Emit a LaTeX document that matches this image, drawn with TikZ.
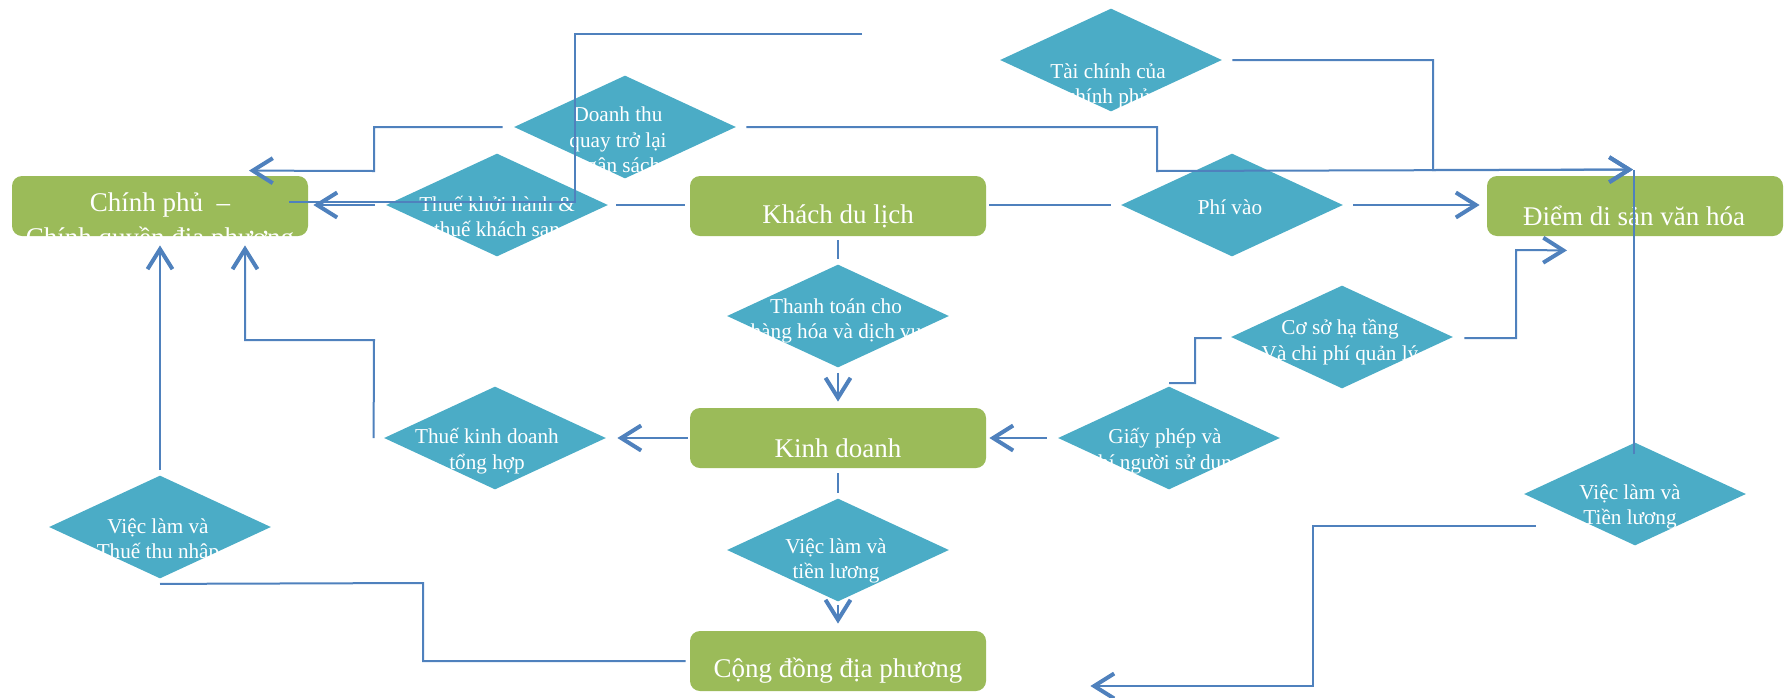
\documentclass[tikz,border=0pt]{standalone}
\usepackage{fontspec}
\setmainfont{Liberation Serif}
\usetikzlibrary{shapes.geometric,arrows.meta,calc}

\definecolor{boxgreen}{HTML}{9BBB59}
\definecolor{diamondteal}{HTML}{4BACC6}
\definecolor{linkblue}{HTML}{4F81BD}

\tikzset{
  greenbox/.style={shape=rectangle, rounded corners=5pt, fill=boxgreen,
    minimum width=148pt, minimum height=30pt, inner sep=0pt},
  tealdiamond/.style={shape=diamond, fill=diamondteal,
    minimum width=111pt, minimum height=51.5pt, inner sep=0pt},
  boxtext/.style={text=white, font=\fontsize{13.5}{17.5}\selectfont, align=center, inner sep=0pt},
  dtext/.style={text=white, font=\fontsize{10.6}{12.8}\selectfont, align=center, inner sep=0pt},
  conn/.style={draw=linkblue, line width=1pt},
  arrowend/.style={-{Straight Barb[length=10pt,width=12.5pt,line width=2pt]}}
}

\begin{document}
\begin{tikzpicture}[x=0.5pt,y=-0.5pt]
\useasboundingbox (0,0) rectangle (1789,697);

% actors
\node[greenbox] (cp)  at (160,206) {};
\node[greenbox] (kdl) at (838,206) {};
\node[greenbox] (ds)  at (1635,206) {};
\node[greenbox] (kd)  at (838,438) {};
\node[greenbox] (cd)  at (838,661) {};

% flows
\node[tealdiamond] (dt)  at (625,127) {};
\node[tealdiamond] (tkh) at (497,205) {};
\node[tealdiamond] (tc)  at (1111,60) {};
\node[tealdiamond] (pv)  at (1232,205) {};
\node[tealdiamond] (tt)  at (838,316) {};
\node[tealdiamond] (csh) at (1342,337) {};
\node[tealdiamond] (gp)  at (1169,438) {};
\node[tealdiamond] (tkd) at (495,438) {};
\node[tealdiamond] (vlt) at (160,527) {};
\node[tealdiamond] (vlm) at (838,550) {};
\node[tealdiamond] (vlr) at (1635,494) {};

% labels of the actors
\node[boxtext] (cp-t)  at (160,223) {Chính phủ \ –\\Chính quyền địa phương};
\node[boxtext] (kdl-t) at (838,216) {Khách du lịch};
\node[boxtext] (ds-t)  at (1634,216) {Điểm di sản văn hóa};
\node[boxtext] (kd-t)  at (838,448) {Kinh doanh};
\node[boxtext] (cd-t)  at (838,671) {Cộng đồng địa phương};

% labels of the flows
\node[dtext] (dt-t)  at (618,142) {Doanh thu\\quay trở lại\\ngân sách};
\node[dtext] (tkh-t) at (497,218) {Thuế khởi hành \&\\thuế khách sạn};
\node[dtext] (tc-t)  at (1108,86) {Tài chính của\\chính phủ};
\node[dtext] (pv-t)  at (1230,207) {Phí vào};
\node[dtext] (tt-t)  at (836,321) {Thanh toán cho\\hàng hóa và dịch vụ};
\node[dtext] (csh-t) at (1340,342) {Cơ sở hạ tầng\\Và chi phí quản lý};
\node[dtext] (gp-t)  at (1165,451) {Giấy phép và\\phí người sử dụng};
\node[dtext] (tkd-t) at (487,451) {Thuế kinh doanh\\tổng hợp};
\node[dtext] (vlt-t) at (158,541) {Việc làm và\\Thuế thu nhập};
\node[dtext] (vlm-t) at (836,561) {Việc làm và\\tiền lương};
\node[dtext] (vlr-t) at (1630,507) {Việc làm và\\Tiền lương};

\coordinate (topfree) at (862,34);

% connectors
\draw[conn,arrowend] ($(dt.west)+(-11,0)$) -- (374,127) -- (374,171) -- ($(cp.north)+(89,-5)$);
\draw[conn] (topfree) -- (575,34) -- (575,202) -- ($(cp.east)+(-19,-4)$);
\draw[conn] ($(kdl.west)+(-5,-1)$) -- ($(tkh.east)+(8,0)$);
\draw[conn,arrowend] ($(tkh.west)+(-11,0)$) -- ($(cp.east)+(5,-1)$);
\draw[conn] ($(kdl.east)+(3,-1)$) -- ($(pv.west)+(-10,0)$);
\draw[conn,arrowend] ($(pv.east)+(10,0)$) -- ($(ds.west)+(-7,-1)$);
\draw[conn,arrowend] ($(dt.east)+(10,0)$) -- (1157,127) -- (1157,171) -- ($(ds.north)+(-2,-6)$);
\draw[conn,arrowend] ($(tc.east)+(10,0)$) -- (1433,60) -- (1433,170) -- ($(ds.north)+(-2,-6)$);
\draw[conn] ($(vlr.north)+(-1,12)$) -- ($(ds.north)+(-1,-6)$);
\draw[conn] ($(kdl.south)+(0,4)$) -- ($(tt.north)+(0,-5)$);
\draw[conn,arrowend] ($(tt.south)+(0,5)$) -- ($(kd.north)+(0,-6)$);
\draw[conn,arrowend] ($(kd.west)+(-2,0)$) -- ($(tkd.east)+(11,0)$);
\draw[conn,arrowend] ($(tkd.west)+(-10,0)$) -- (374,340) -- (245,340) -- ($(cp.south)+(85,9)$);
\draw[conn,arrowend] ($(vlt.north)+(0,-5)$) -- ($(cp.south)+(0,9)$);
\draw[conn] ($(cd.west)+(-4,0)$) -- (423,661) -- (423,583) -- ($(vlt.south)+(0,5)$);
\draw[conn] ($(kd.south)+(0,5)$) -- ($(vlm.north)+(0,-5)$);
\draw[conn,arrowend] ($(vlm.south)+(0,3)$) -- ($(cd.north)+(0,-7)$);
\draw[conn,arrowend] ($(gp.west)+(-11,0)$) -- ($(kd.east)+(3,0)$);
\draw[conn] ($(gp.north)+(0,-3)$) -- (1195,383) -- (1195,338) -- ($(csh.west)+(-9,1)$);
\draw[conn,arrowend] ($(csh.east)+(11,1)$) -- (1516,338) -- (1516,250) -- ($(ds.south)+(-68,14)$);
\draw[conn,arrowend] ($(vlr.west)+(12,32)$) -- (1313,526) -- (1313,686) -- ($(cd.east)+(104,25)$);
\end{tikzpicture}
\end{document}
